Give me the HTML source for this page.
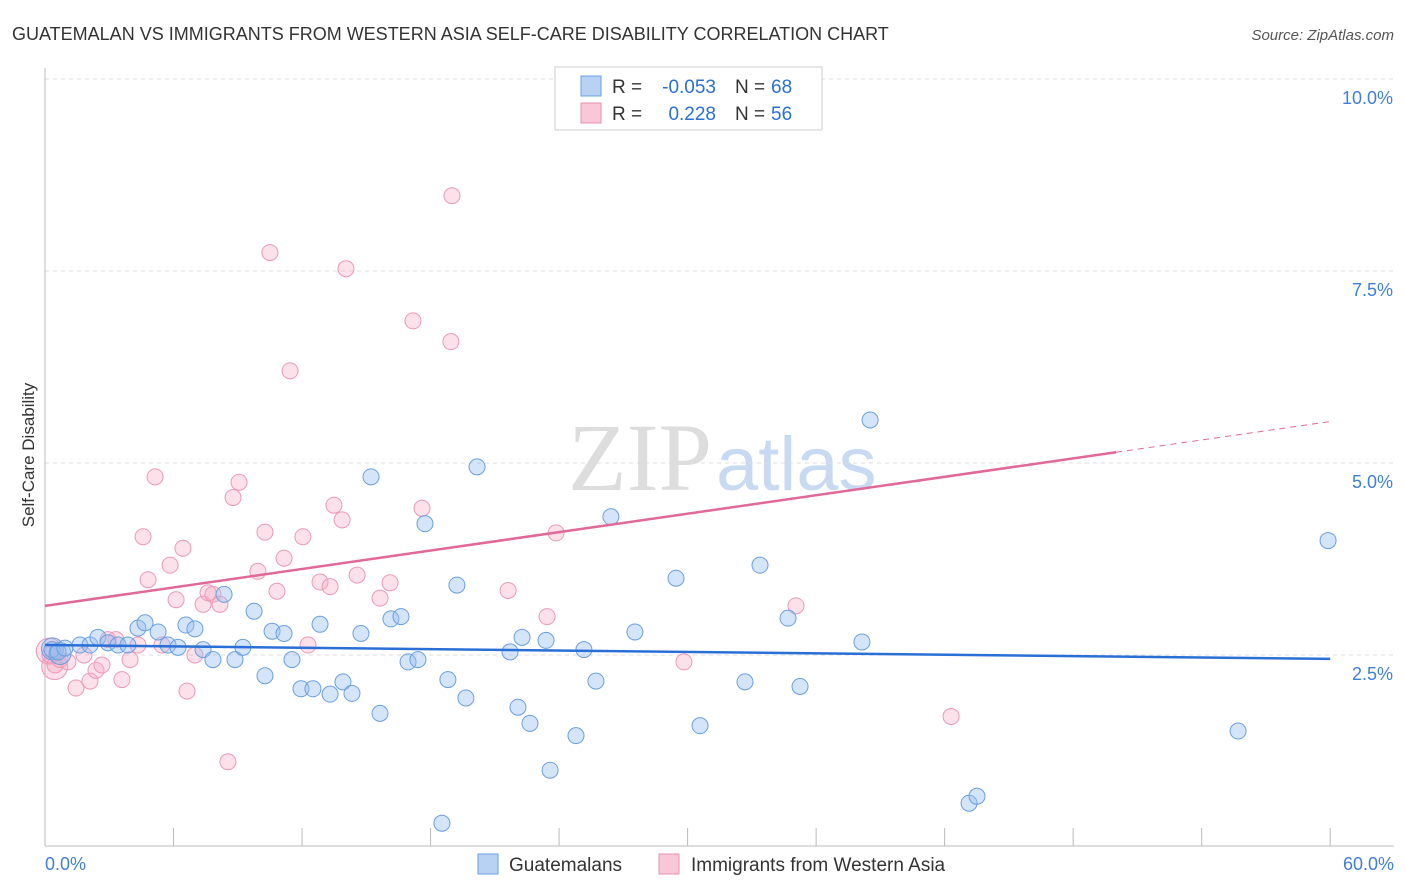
<!DOCTYPE html>
<html><head><meta charset="utf-8"><style>
body{margin:0;background:#fff;font-family:"Liberation Sans",sans-serif;}
svg{display:block}
</style></head><body>
<svg id="chart" width="1406" height="892">
<text x="12" y="40" font-size="18" fill="#333">GUATEMALAN VS IMMIGRANTS FROM WESTERN ASIA SELF-CARE DISABILITY CORRELATION CHART</text>
<text x="1394" y="40" font-size="15" fill="#555" font-style="italic" text-anchor="end">Source: ZipAtlas.com</text>
<text x="712" y="490" font-size="96" fill="#ddd" text-anchor="end" font-family="Liberation Serif,serif">ZIP</text>
<text x="716" y="490" font-size="76" fill="#c8daf2">atlas</text>
<g id="grid"></g><g id="axes"></g><g id="pts"></g><g id="lines"></g>
<text transform="translate(34,455) rotate(-90)" font-size="17" fill="#333" text-anchor="middle">Self-Care Disability</text>
<g>
<rect x="555" y="67" width="267" height="63" fill="#fff" stroke="#ccc"/>
<rect x="581" y="76" width="20" height="20" fill="#b8d2f4" stroke="#6a9fe0"/>
<rect x="581" y="103" width="20" height="20" fill="#f9c8d8" stroke="#e890b0"/>
<text x="612" y="93" font-size="19" fill="#333">R =</text>
<text x="716" y="93" font-size="19" fill="#2a6fd6" text-anchor="end">-0.053</text>
<text x="735" y="93" font-size="19" fill="#333">N =</text>
<text x="771" y="93" font-size="19" fill="#2a6fd6">68</text>
<text x="612" y="120" font-size="19" fill="#333">R =</text>
<text x="716" y="120" font-size="19" fill="#2a6fd6" text-anchor="end">0.228</text>
<text x="735" y="120" font-size="19" fill="#333">N =</text>
<text x="771" y="120" font-size="19" fill="#2a6fd6">56</text>
</g>
<g>
<rect x="478" y="854" width="20" height="20" fill="#b8d2f4" stroke="#6a9fe0"/>
<text x="509" y="871" font-size="19" fill="#333">Guatemalans</text>
<rect x="659" y="854" width="20" height="20" fill="#f9c8d8" stroke="#e890b0"/>
<text x="691" y="871" font-size="19" fill="#333">Immigrants from Western Asia</text>
</g>
</svg>
<script>
const blueX=[0.33,0.61,0.93,1.63,2.10,2.47,2.94,3.41,3.87,4.34,4.67,5.28,5.74,6.21,6.58,7.00,7.38,7.84,8.36,8.87,9.24,9.76,10.27,10.60,11.16,11.53,11.95,12.51,12.84,13.31,13.91,14.33,14.75,15.22,15.64,16.15,16.62,16.95,17.41,17.74,18.81,19.23,19.65,20.17,21.71,22.08,22.27,22.64,23.39,23.58,24.79,25.16,25.72,26.42,27.54,29.46,30.58,32.68,33.38,34.69,35.25,38.14,38.52,43.14,43.51,55.70,59.90,18.53];
const blueY=[2.57,2.54,2.59,2.63,2.63,2.73,2.66,2.63,2.63,2.85,2.92,2.80,2.63,2.60,2.89,2.84,2.57,2.44,3.29,2.44,2.60,3.07,2.23,2.81,2.78,2.44,2.06,2.06,2.90,1.99,2.15,2.00,2.78,4.82,1.74,2.97,3.00,2.41,2.44,4.21,2.18,3.41,1.94,4.95,2.54,1.82,2.73,1.61,2.69,1.00,1.45,2.57,2.16,4.30,2.80,3.50,1.58,2.15,3.67,2.98,2.09,2.67,5.56,0.57,0.66,1.51,3.99,0.31];
const pinkX=[0.23,0.47,0.70,1.07,1.45,1.82,2.10,2.38,2.66,2.94,3.31,3.59,3.97,4.34,4.58,4.81,5.14,5.46,5.84,6.12,6.44,6.63,7.00,7.38,7.61,7.84,8.17,8.54,8.78,9.06,9.94,10.27,10.50,10.83,11.16,11.44,12.04,12.28,12.84,13.31,13.49,13.87,14.05,14.57,15.64,16.11,17.18,17.60,18.95,19.00,21.62,23.44,23.86,29.83,35.06,42.30];
const pinkY=[2.50,2.37,2.44,2.41,2.07,2.50,2.16,2.30,2.37,2.70,2.70,2.18,2.44,2.63,4.04,3.48,4.82,2.63,3.67,3.22,3.89,2.03,2.50,3.16,3.31,3.29,3.16,1.11,4.55,4.75,3.59,4.10,7.74,3.33,3.76,6.20,4.04,2.63,3.45,3.39,4.45,4.26,7.53,3.54,3.24,3.44,6.85,4.41,6.58,8.48,3.34,3.00,4.09,2.41,3.14,1.70];
const bigPinkX=[0.20,0.45];
const bigPinkY=[2.55,2.35];
const bigBlueX=[0.35,0.70];
const bigBlueY=[2.58,2.52];
const xTicks=[0,6,12,18,24,30,36,42,48,54,60];
const yTicks=[2.5,5.0,7.5,10.0];
const blueTrend=[2.63,2.45];
const pinkTrend=[3.14,5.54];
const pinkSolidEnd=50;
const NS="http://www.w3.org/2000/svg";
const X=v=>45+v*21.42, Y=v=>847-v*76.8;
function mk(tag,attrs,parent){const e=document.createElementNS(NS,tag);for(const k in attrs)e.setAttribute(k,attrs[k]);document.getElementById(parent).appendChild(e);return e;}
yTicks.forEach(t=>{
 const l=mk('line',{x1:45,x2:1394,y1:Y(t),y2:Y(t),stroke:'#ddd','stroke-dasharray':'4,4'},'grid');
 
 
 const tx=mk('text',{x:1393,y:Y(t)+25,'font-size':18,fill:'#3f7fd8','text-anchor':'end'},'grid');
 tx.textContent=t.toFixed(1)+'%';
 
 
});
const ax=mk('line',{x1:45,x2:45,y1:68,y2:846,stroke:'#bbb'},'axes');


const bx=mk('line',{x1:45,x2:1394,y1:846,y2:846,stroke:'#bbb'},'axes');


xTicks.forEach(t=>{
 const l=mk('line',{x1:X(t),x2:X(t),y1:828,y2:846,stroke:'#bbb'},'axes');
 
 
});
[[0,'0.0%','start',45],[60,'60.0%','end',1394]].forEach(a=>{
 const tx=mk('text',{x:a[3],y:870,'font-size':18,fill:'#3f7fd8','text-anchor':a[2]},'axes');
 tx.textContent=a[1];
 
 
});
bigPinkX.forEach((x,i)=>{
 const c=mk('circle',{cx:X(x),cy:Y(bigPinkY[i]),r:13,fill:'rgba(245,170,195,0.35)',stroke:'#eb9ab6','stroke-width':1},'pts');
 
 
});
pinkX.forEach((x,i)=>{
 const c=mk('circle',{cx:X(x),cy:Y(pinkY[i]),r:8,fill:'rgba(245,170,195,0.35)',stroke:'#eb9ab6','stroke-width':1},'pts');
 
 
});
bigBlueX.forEach((x,i)=>{
 const c=mk('circle',{cx:X(x),cy:Y(bigBlueY[i]),r:11,fill:'rgba(150,190,240,0.4)',stroke:'#6a9fe0','stroke-width':1},'pts');
 
 
});
blueX.forEach((x,i)=>{
 const c=mk('circle',{cx:X(x),cy:Y(blueY[i]),r:8,fill:'rgba(150,190,240,0.4)',stroke:'#6a9fe0','stroke-width':1},'pts');
 
 
});
const bl=mk('line',{x1:X(0),y1:Y(blueTrend[0]),x2:X(60),y2:Y(blueTrend[1]),stroke:'#2a6fd6','stroke-width':2.5},'lines');


const pm=pinkTrend[0]+(pinkTrend[1]-pinkTrend[0])*pinkSolidEnd/60;
const pl=mk('line',{x1:X(0),y1:Y(pinkTrend[0]),x2:X(pinkSolidEnd),y2:Y(pm),stroke:'#e0699a','stroke-width':2.5},'lines');


const pd=mk('line',{x1:X(pinkSolidEnd),y1:Y(pm),x2:X(60),y2:Y(pinkTrend[1]),stroke:'#e0699a','stroke-width':1,'stroke-dasharray':'6,5'},'lines');


</script>
</body></html>
